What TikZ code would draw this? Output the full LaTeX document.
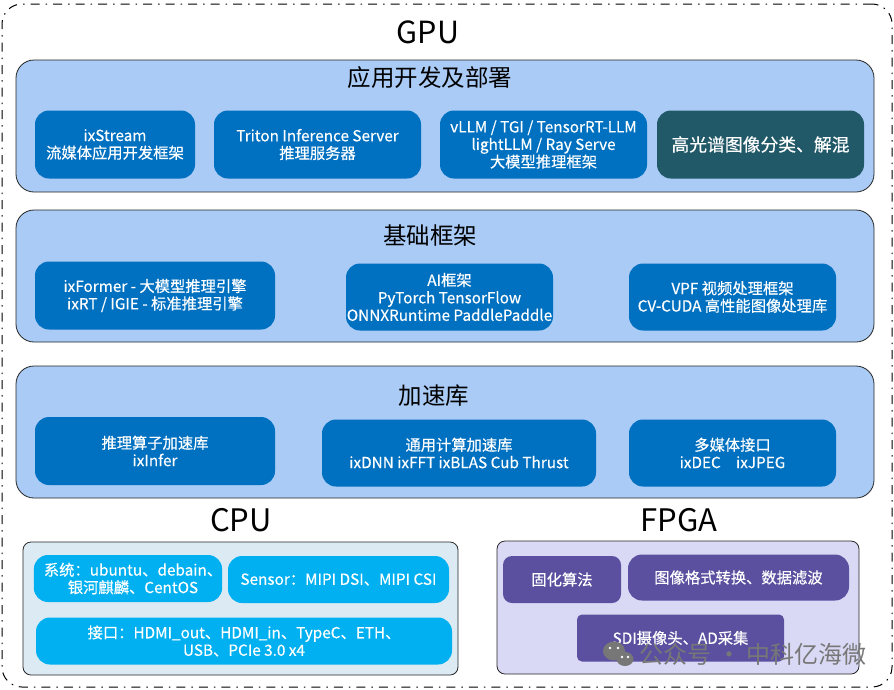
\documentclass[tikz,border=0pt]{standalone}
\usepackage{fontspec}
\setmainfont{Noto Sans CJK SC}
\newfontfamily\tilefont[FakeBold=0.35]{Noto Sans CJK SC}
\definecolor{gpupanel}{HTML}{A9CBF5}
\definecolor{gpubox}{HTML}{0070C0}
\definecolor{hyperbox}{HTML}{215968}
\definecolor{cpupanel}{HTML}{DCEAF3}
\definecolor{cpubox}{HTML}{00B0F0}
\definecolor{fpgapanel}{HTML}{D9D9F5}
\definecolor{fpgabox}{HTML}{5B4F9F}
\definecolor{markgray}{HTML}{777777}
\tikzset{
	panel/.style={draw=black!85, line width=0.8pt, inner sep=0pt, outer sep=0pt},
	headline/.style={inner sep=0pt, text=black},
	tile/.style={inner sep=0pt, outer sep=0pt, text=white, align=center, rounded corners=14pt,
		font=\tilefont\fontsize{15.3}{17.5}\selectfont},
}
\begin{document}
\begin{tikzpicture}[x=1pt,y=-1pt]
	\useasboundingbox (0,0) rectangle (894,689);
	\fill[white] (0,0) rectangle (894,689);
	\node[draw=black, line width=1pt, dash pattern=on 9pt off 6pt on 1.5pt off 6pt, rounded corners=20pt,
		minimum width=890pt, minimum height=683pt, inner sep=0pt] (outer) at (447,345.5) {};
	\node[headline, font=\fontsize{30.5}{32}\selectfont] (gputitle) at (428,32) {GPU};
	% three gpu layers
	\foreach \nm/\y/\tx/\ty/\txt in {apps/126/430/78/应用开发及部署,base/276/430/236/基础框架,accel/432/434/396/加速库}
	{
		\node[panel, fill=gpupanel, rounded corners=18pt, minimum width=858pt, minimum height=132pt] (\nm) at (445,\y) {};
		\node[headline, font=\fontsize{23.5}{26}\selectfont] (\nm title) at (\tx,\ty) {\txt};
	}
	% apps
	\node[tile, fill=gpubox, minimum width=160pt, minimum height=68pt] (ixstream) at (115,144.5) {ixStream\\流媒体应用开发框架};
	\node[tile, fill=gpubox, minimum width=207pt, minimum height=68pt] (triton) at (317.5,144.5) {Triton Inference Server\\推理服务器};
	\node[tile, fill=gpubox, minimum width=207pt, minimum height=68pt] (vllm) at (543.5,144.5) {vLLM / TGI / TensorRT-LLM\\lightLLM / Ray Serve\\大模型推理框架};
	\node[tile, fill=hyperbox, minimum width=207pt, minimum height=68pt, font=\tilefont\fontsize{17.8}{20}\selectfont] (hyper) at (760.5,144.5) {高光谱图像分类、解混};
	% base
	\node[tile, fill=gpubox, minimum width=240pt, minimum height=68pt] (ixformer) at (155,295.5) {ixFormer - 大模型推理引擎\\ixRT / IGIE - 标准推理引擎};
	\node[tile, fill=gpubox, minimum width=207pt, minimum height=67pt] (aiframe) at (449.5,297) {AI框架\\PyTorch TensorFlow\\ONNXRuntime PaddlePaddle};
	\node[tile, fill=gpubox, minimum width=207pt, minimum height=67pt] (vpf) at (732.5,297) {VPF 视频处理框架\\CV-CUDA 高性能图像处理库};
	% accel
	\node[tile, fill=gpubox, minimum width=240pt, minimum height=68pt] (opslib) at (155,451) {推理算子加速库\\ixInfer};
	\node[tile, fill=gpubox, minimum width=274pt, minimum height=67pt] (computelib) at (459,453) {通用计算加速库\\ixDNN ixFFT ixBLAS Cub Thrust};
	\node[tile, fill=gpubox, minimum width=207pt, minimum height=67pt] (medialib) at (732.5,453) {多媒体接口\\ixDEC\quad ixJPEG};
	% cpu
	\node[headline, font=\fontsize{31}{33}\selectfont] (cputitle) at (241,520) {CPU};
	\node[panel, fill=cpupanel, rounded corners=8pt, minimum width=435pt, minimum height=133pt] (cpu) at (240.5,608.5) {};
	\node[tile, fill=cpubox, minimum width=184pt, minimum height=47pt] (system) at (128,578.5) {\hspace*{10pt}系统：ubuntu、debain、\\\hspace*{10pt}银河麒麟、CentOS};
	\node[tile, fill=cpubox, minimum width=221pt, minimum height=47pt] (sensor) at (338.5,579.5) {Sensor：MIPI DSI、MIPI CSI};
	\node[tile, fill=cpubox, minimum width=416pt, minimum height=47pt] (ports) at (244,641) {接口：HDMI\_out、HDMI\_in、TypeC、ETH、\\USB、PCIe 3.0 x4};
	% fpga
	\node[headline, font=\fontsize{31}{33}\selectfont] (fpgatitle) at (679,520) {FPGA};
	\node[panel, fill=fpgapanel, rounded corners=8pt, minimum width=362pt, minimum height=133pt] (fpga) at (678,607.5) {};
	\node[tile, fill=fpgabox, minimum width=118pt, minimum height=47pt, rounded corners=9pt] (fixedalgo) at (562,579.5) {固化算法};
	\node[tile, fill=fpgabox, minimum width=221pt, minimum height=46pt] (imgformat) at (738.5,577.5) {图像格式转换、数据滤波};
	\node[tile, fill=fpgabox, minimum width=207pt, minimum height=47pt, rounded corners=5pt] (sdi) at (680.5,638) {SDI摄像头、AD采集};
	% watermark
	\node[inner sep=0pt, text=markgray, font=\fontsize{24}{26}\selectfont] (mark) at (753,654) {公众号 · 中科亿海微};
	\fill[markgray] (614,651) ellipse (11pt and 9.5pt);
	\fill[markgray] (625,659) ellipse (8.5pt and 7pt);
	\foreach \ex/\ey in {610/648,618/648,622/657,628/657}
		\fill[white] (\ex,\ey) circle (1.3pt);
\end{tikzpicture}
\end{document}
